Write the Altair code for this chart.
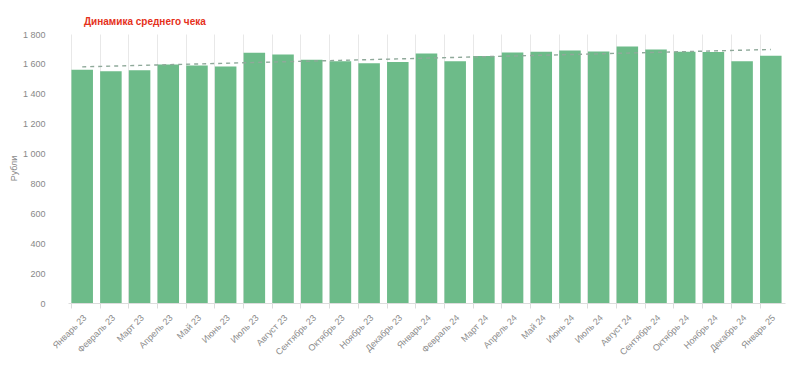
import altair as alt
import pandas as pd

months = ["Январь 23", "Февраль 23", "Март 23", "Апрель 23", "Май 23", "Июнь 23",
          "Июль 23", "Август 23", "Сентябрь 23", "Октябрь 23", "Ноябрь 23", "Декабрь 23",
          "Январь 24", "Февраль 24", "Март 24", "Апрель 24", "Май 24", "Июнь 24",
          "Июль 24", "Август 24", "Сентябрь 24", "Октябрь 24", "Ноябрь 24", "Декабрь 24",
          "Январь 25"]
values = [1561, 1551, 1558, 1596, 1590, 1583, 1675, 1663, 1628, 1618, 1605, 1612,
          1670, 1618, 1652, 1677, 1681, 1690, 1683, 1717, 1697, 1681, 1679, 1618, 1655]
y_ticks = [0, 200, 400, 600, 800, 1000, 1200, 1400, 1600, 1800]

df = pd.DataFrame({"month": months, "value": values})

FONT = "Liberation Sans"
x_axis = alt.Axis(labelAngle=-45, labelFontSize=9, labelColor="#8c8c8c",
                  labelFont=FONT, domainColor="#dddddd", tickColor="#dddddd",
                  tickSize=5, grid=True, gridColor="#e8e8e8", bandPosition=0,
                  labelPadding=5, labelOverlap=False)
x_scale = alt.Scale(paddingInner=0.25, paddingOuter=0.12)
y_axis = alt.Axis(values=y_ticks, grid=False, domain=False, ticks=False,
                  labelOverlap=False,
                  labelFontSize=9, labelColor="#888888", labelFont=FONT,
                  labelPadding=23, titleFontSize=9, titleColor="#888888",
                  titleFont=FONT, titleFontWeight="normal",
                  titleX=-50, titleY=134,
                  labelExpr="replace(format(datum.value, ','), ',', ' ')")
y_scale = alt.Scale(domain=[0, 1800], nice=False)

bars = alt.Chart(df).mark_bar(color="#6dbb89").encode(
    x=alt.X("month:N", sort=months, title=None, scale=x_scale, axis=x_axis),
    y=alt.Y("value:Q", title="Рубли", scale=y_scale, axis=y_axis),
)

trend = alt.Chart(df).transform_window(
    i="row_number()"
).transform_joinaggregate(
    mi="mean(i)", mv="mean(value)"
).transform_calculate(
    cxy="(datum.i - datum.mi) * (datum.value - datum.mv)",
    cxx="(datum.i - datum.mi) * (datum.i - datum.mi)"
).transform_joinaggregate(
    sxy="sum(cxy)", sxx="sum(cxx)"
).transform_calculate(
    trend="datum.mv + datum.sxy / datum.sxx * (datum.i - datum.mi)"
).mark_line(color="#8fa99a", strokeDash=[4, 4], strokeWidth=1.4).encode(
    x=alt.X("month:N", sort=months, title=None, scale=x_scale, axis=x_axis),
    y=alt.Y("trend:Q", title="Рубли", scale=y_scale, axis=y_axis),
)

chart = alt.layer(bars, trend).properties(
    width=717, height=269,
    title=alt.TitleParams("Динамика среднего чека", anchor="start", frame="group",
                          dx=16, offset=3,
                          fontSize=10, fontWeight="bold", color="#e5311b", font=FONT),
    autosize=alt.AutoSizeParams(type="none"),
    padding={"left": 60, "top": 26, "right": 5, "bottom": 55},
).configure_view(stroke=None).configure_axis(labelOverlap=False)

chart.save("out.html", embed_options={"renderer": "svg", "actions": False})
